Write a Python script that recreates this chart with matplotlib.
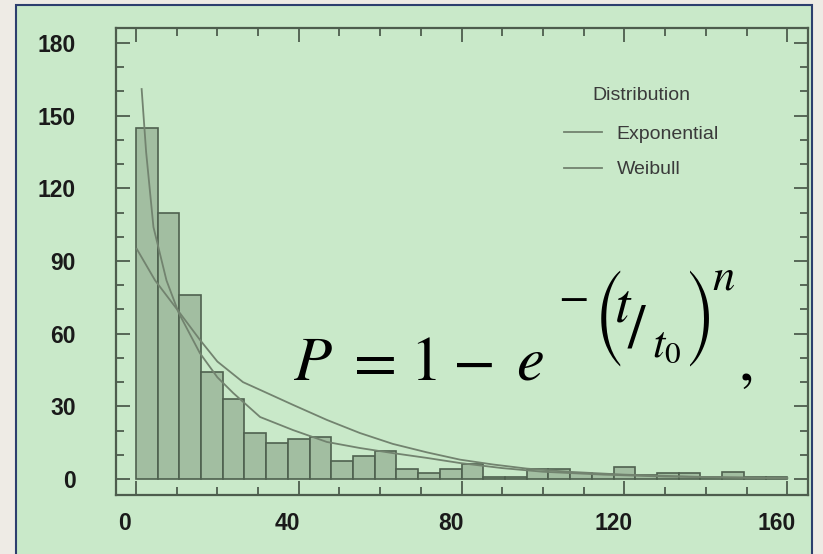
import numpy as np
import matplotlib
matplotlib.use("Agg")
import matplotlib.pyplot as plt
from matplotlib.patches import Rectangle
from matplotlib.ticker import MultipleLocator
from matplotlib.transforms import ScaledTranslation
from matplotlib import font_manager

# ---------------- data ----------------
bin_start = 0.0
bin_stop = 160.0
bar_counts = [145, 110, 76, 44, 33, 19, 15, 16.5, 17.5, 7.5,
              9.5, 11.5, 4, 2.5, 4, 6, 1, 1, 4, 4,
              2.5, 2, 5, 1.5, 2.5, 2.5, 1, 3, 1, 1]

expo_x = [0.2, 4.7, 10.8, 15.7, 20.0, 26.3, 30.5, 38.6, 46.9, 55.0,
          63.1, 71.5, 79.6, 87.7, 96.0, 106.0, 120.0, 140.0, 160.0]
expo_y = [95, 82, 68.5, 57.5, 48.5, 40, 36.8, 30.6, 24.4, 19.0,
          14.5, 11.0, 8.0, 6.0, 4.3, 3.0, 1.8, 0.8, 0.4]

weib_x = [1.4, 2.5, 4.3, 7.5, 10.5, 15.7, 20.0, 23.9, 30.5, 38.6,
          46.9, 55.0, 63.1, 71.5, 79.6, 90.0, 100.0, 115.0, 130.0, 160.0]
weib_y = [161, 135, 104, 82, 68.6, 52, 42, 35.5, 25.6, 20.2,
          15.3, 12.8, 10.7, 8.7, 6.6, 4.5, 3.0, 1.8, 1.0, 0.3]

series_labels = ["Exponential", "Weibull"]
legend_title = "Distribution"
x_ticks = [0, 40, 80, 120, 160]
y_ticks = [0, 30, 60, 90, 120, 150, 180]

# ---------------- figure ----------------
plt.rcParams["mathtext.fontset"] = "stix"
W, H = 823, 554
fig = plt.figure(figsize=(W / 100, H / 100), dpi=100, facecolor="#eeebe5")

def fx(px):
    return px / W

def fy(py):
    return 1 - py / H

panel = Rectangle((fx(16), fy(560)), fx(812) - fx(16), fy(5) - fy(560),
                  transform=fig.transFigure, facecolor="#c9e9c9",
                  edgecolor="#2d3f6e", linewidth=1.5, zorder=-10)
fig.patches.append(panel)

ax = fig.add_axes([fx(116), fy(495), fx(808) - fx(116), fy(28) - fy(495)])
ax.set_facecolor("none")
ax.set_zorder(1)

n_bins = len(bar_counts)
width = (bin_stop - bin_start) / n_bins
lefts = bin_start + width * np.arange(n_bins)
ax.bar(lefts, bar_counts, width=width, align="edge", color="#a2bea1",
       edgecolor="#4f614f", linewidth=1.2, zorder=2)

line_col = "#72836f"
ax.plot(expo_x, expo_y, color=line_col, lw=1.3, label=series_labels[0], zorder=3)
ax.plot(weib_x, weib_y, color=line_col, lw=1.3, label=series_labels[1], zorder=3)

ax.set_xlim(-4.9, 165.1)
ax.set_ylim(-6.6, 186.2)

spine_col = "#4d5d4d"
for s in ax.spines.values():
    s.set_color(spine_col)
    s.set_linewidth(1.6)

ax.set_xticks(x_ticks)
ax.set_yticks(y_ticks)
ax.xaxis.set_minor_locator(MultipleLocator(10))
ax.yaxis.set_minor_locator(MultipleLocator(10))
ax.tick_params(which="both", direction="in", top=True, right=True,
               color=spine_col, width=1.3)
ax.tick_params(which="major", length=10)
ax.tick_params(which="minor", length=6)
ax.tick_params(axis="x", which="major", pad=12)
ax.tick_params(axis="y", which="major", pad=29)

for lab in ax.get_xticklabels():
    lab.set_fontfamily("Liberation Sans")
    lab.set_fontweight("bold")
    lab.set_fontsize(16.5)
    lab.set_color("#1a1a1a")
    lab.set_transform(lab.get_transform() + ScaledTranslation(-0.11, 0, fig.dpi_scale_trans))
for lab in ax.get_yticklabels():
    lab.set_fontfamily("Liberation Sans")
    lab.set_fontweight("bold")
    lab.set_fontsize(16.5)
    lab.set_color("#1a1a1a")

leg = ax.legend(title=legend_title, loc="upper left",
                bbox_to_anchor=(fx(564), fy(87)), bbox_transform=fig.transFigure,
                frameon=False, borderpad=0, borderaxespad=0,
                prop={"family": "Liberation Sans", "size": 14},
                title_fontproperties={"family": "Liberation Sans", "size": 14},
                handlelength=1.95, handletextpad=0.75, labelspacing=0.9)
try:
    leg._legend_box.sep = 0.9 * 14 + 3.0
except Exception:
    pass
for t in leg.get_texts():
    t.set_color("#3a3a3a")
leg.get_title().set_color("#3a3a3a")

# ---------------- formula P = 1 - e^{-(t/t0)^n}, ----------------
def put(x, base, s, size, ha="left", va="baseline", family=None):
    kw = {}
    if family is not None:
        kw["fontfamily"] = family
    return fig.text(fx(x), fy(base), s, fontsize=size, color="black",
                    ha=ha, va=va, zorder=5, **kw)

# tall, thin parenthesis glyphs from STIX size-variant font (falls back if missing)
paren_family = None
for fam in ["STIXSizeTwoSym", "STIXSizeOneSym", "STIXGeneral"]:
    try:
        font_manager.findfont(font_manager.FontProperties(family=fam),
                              fallback_to_default=False)
        paren_family = fam
        break
    except Exception:
        continue

put(293, 380, r"$P$", 45)
put(369, 380, r"$=$", 45, ha="center")
put(410, 380, r"$1$", 45)
put(472, 380, r"$-$", 45, ha="center")
put(516, 380, r"$e$", 45)
put(573, 309, r"$-$", 32, ha="center")
put(594, 318, "(", 37.5, va="center", family=paren_family)
put(614, 321, r"$t$", 40)
put(627, 347, r"$/$", 45)
put(652, 357, r"$t_0$", 32)
put(684, 318, ")", 37.5, va="center", family=paren_family)
put(712, 290, r"$n$", 32)
put(738, 380, r"$,$", 45)

fig.savefig("out.png", dpi=100, facecolor=fig.get_facecolor())
